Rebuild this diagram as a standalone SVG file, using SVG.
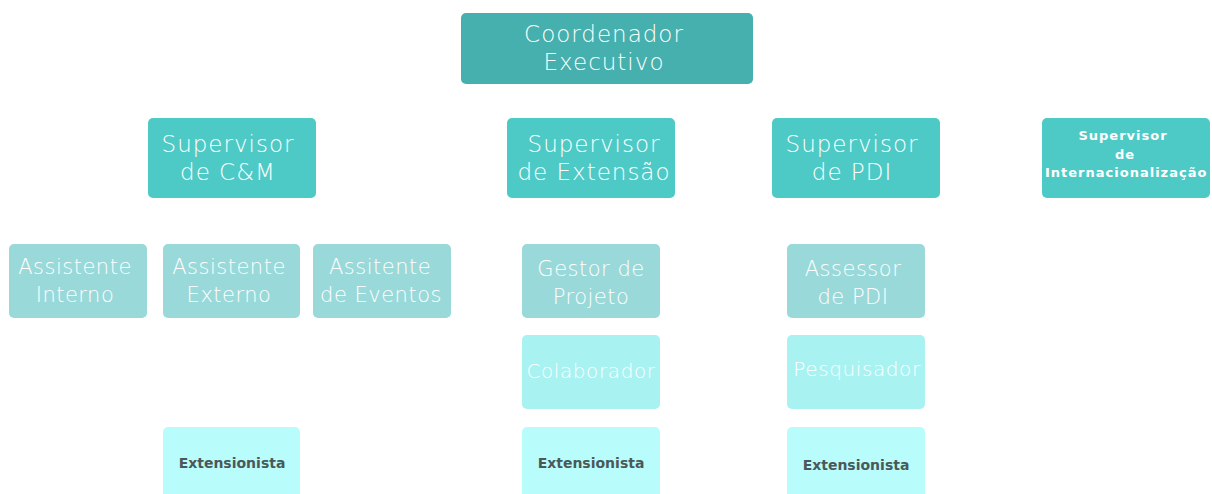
<svg xmlns="http://www.w3.org/2000/svg" width="1212" height="494" viewBox="0 0 1212 494">
<style>
.t{font-family:"DejaVu Sans","Liberation Sans",sans-serif;fill:#ffffff;text-anchor:middle;}
.l1{fill:#45b0ae}
.l2{fill:#4ecac6}
.l3{fill:#9ad9d9}
.l4{fill:#a8f2f2}
.l5{fill:#b9fcfc}
.big{font-size:23px;font-weight:300;letter-spacing:1px}
.mid{font-size:21px;font-weight:300;letter-spacing:0.5px}
.sm{font-size:20px;font-weight:300;letter-spacing:0.6px}
.ext{font-size:14px;font-weight:bold;fill:#4a5858}
.int{font-size:13px;font-weight:bold;letter-spacing:1px}
</style>
<rect width="1212" height="494" fill="#ffffff"/>
<g id="connectors"></g>
<g id="coordenador"><rect class="l1" x="461" y="13" width="292" height="71" rx="5"/><text class="t big" x="604" y="42">Coordenador</text><text class="t big" x="604" y="70">Executivo</text></g>
<g id="sup-cm"><rect class="l2" x="148" y="118" width="168" height="80" rx="5"/><text class="t big" x="228" y="152">Supervisor</text><text class="t big" x="228" y="180">de C&amp;M</text></g>
<g id="sup-ext"><rect class="l2" x="507" y="118" width="168" height="80" rx="5"/><text class="t big" x="594" y="152">Supervisor</text><text class="t big" x="594" y="180">de Extensão</text></g>
<g id="sup-pdi"><rect class="l2" x="772" y="118" width="168" height="80" rx="5"/><text class="t big" x="852" y="152">Supervisor</text><text class="t big" x="852" y="180">de PDI</text></g>
<g id="sup-int"><rect class="l2" x="1042" y="118" width="168" height="80" rx="5"/><text class="t int" x="1123" y="140">Supervisor</text><text class="t int" x="1125" y="159">de</text><text class="t int" x="1045" y="177" style="text-anchor:start">Internacionalização</text></g>
<g id="ass-int"><rect class="l3" x="9" y="244" width="138" height="74" rx="5"/><text class="t mid" x="75" y="274">Assistente</text><text class="t mid" x="75" y="302">Interno</text></g>
<g id="ass-ext"><rect class="l3" x="163" y="244" width="137" height="74" rx="5"/><text class="t mid" x="229" y="274">Assistente</text><text class="t mid" x="229" y="302">Externo</text></g>
<g id="ass-ev"><rect class="l3" x="313" y="244" width="138" height="74" rx="5"/><text class="t mid" x="380" y="274">Assitente</text><text class="t mid" x="381" y="302">de Eventos</text></g>
<g id="gestor"><rect class="l3" x="522" y="244" width="138" height="74" rx="5"/><text class="t mid" x="591" y="276">Gestor de</text><text class="t mid" x="591" y="304">Projeto</text></g>
<g id="assessor"><rect class="l3" x="787" y="244" width="138" height="74" rx="5"/><text class="t mid" x="853" y="276">Assessor</text><text class="t mid" x="853" y="304">de PDI</text></g>
<g id="colab"><rect class="l4" x="522" y="335" width="138" height="74" rx="5"/><text class="t sm" x="591" y="378">Colaborador</text></g>
<g id="pesq"><rect class="l4" x="787" y="335" width="138" height="74" rx="5"/><text class="t sm" x="857" y="376">Pesquisador</text></g>
<g id="ext1"><rect class="l5" x="163" y="427" width="137" height="80" rx="5"/><text class="t ext" x="232" y="468">Extensionista</text></g>
<g id="ext2"><rect class="l5" x="522" y="427" width="138" height="80" rx="5"/><text class="t ext" x="591" y="468">Extensionista</text></g>
<g id="ext3"><rect class="l5" x="787" y="427" width="138" height="80" rx="5"/><text class="t ext" x="856" y="470">Extensionista</text></g>
</svg>
